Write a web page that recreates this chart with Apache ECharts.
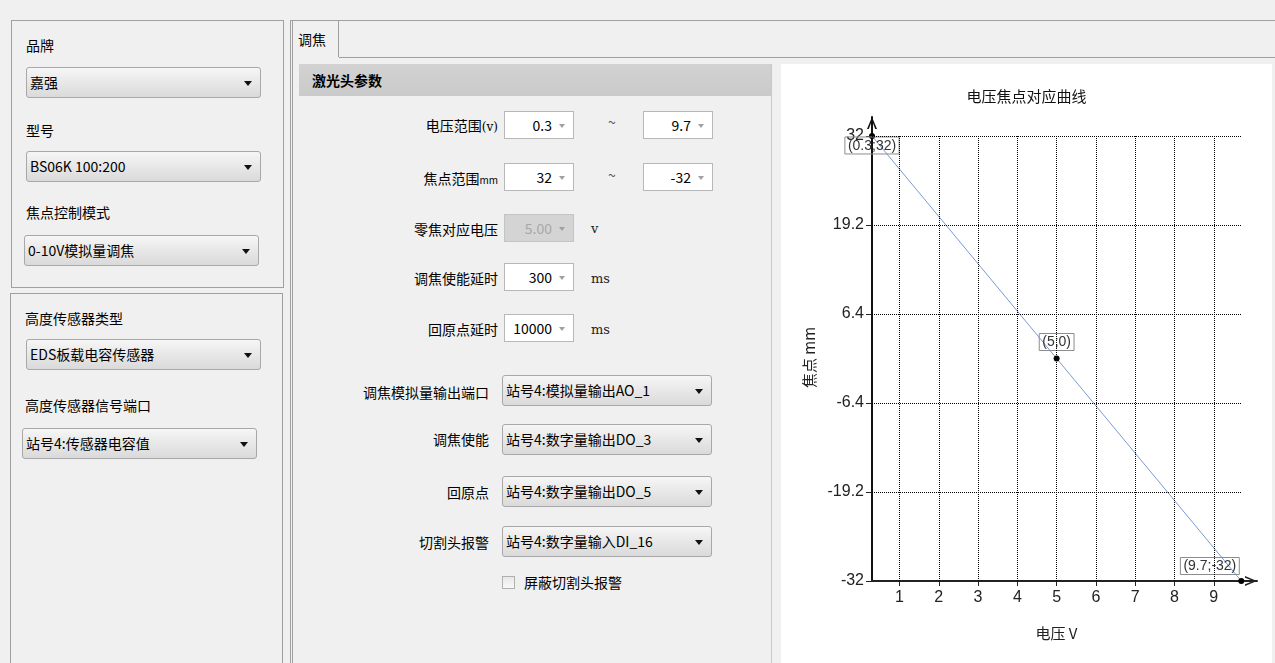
<!DOCTYPE html>
<html><head><meta charset="utf-8">
<script src="https://cdn.jsdelivr.net/npm/echarts@6/dist/echarts.min.js"></script>
<style>
html,body{margin:0;padding:0;}
body{width:1275px;height:663px;background:#f0f0f0;position:relative;overflow:hidden;font-family:"Noto Sans CJK SC","Noto Sans",sans-serif;font-size:14px;color:#000;}
.box{position:absolute;border:1px solid #a0a0a0;box-sizing:border-box;}
.lbl{position:absolute;line-height:18px;white-space:nowrap;}
.r{text-align:right;}
.combo{position:absolute;height:31px;border:1px solid #a8a8a8;border-radius:3px;box-sizing:border-box;background:linear-gradient(#f6f6f6,#e9e9e9 45%,#dadada);line-height:29px;padding-left:3px;white-space:nowrap;}
.combo::after{content:'';position:absolute;right:8px;top:13px;border-left:4px solid transparent;border-right:4px solid transparent;border-top:5px solid #111;}
.spin{position:absolute;width:70px;height:28px;background:#fff;border:1px solid #b8b8b8;box-sizing:border-box;line-height:26px;text-align:right;padding-right:21px;white-space:nowrap;}
.spin::after{content:'';position:absolute;right:8px;top:12px;border-left:3px solid transparent;border-right:3px solid transparent;border-top:4px solid #a0a0a0;}
.spin.dis{background:#d4d4d4;color:#a8a8a8;border-color:#c4c4c4;}
.unit{position:absolute;font-family:"DejaVu Serif","Liberation Serif",serif;font-size:13px;line-height:16px;color:#222;}
</style></head>
<body>
<!-- left panels -->
<div class="box" style="left:11px;top:20px;width:273px;height:268px;"></div>
<div class="lbl" style="left:26px;top:36px;">品牌</div>
<div class="combo" style="left:26px;top:67px;width:235px;">嘉强</div>
<div class="lbl" style="left:26px;top:121px;">型号</div>
<div class="combo" style="left:26px;top:151px;width:235px;">BS06K 100:200</div>
<div class="lbl" style="left:26px;top:203px;">焦点控制模式</div>
<div class="combo" style="left:24px;top:235px;width:235px;">0-10V模拟量调焦</div>

<div class="box" style="left:10px;top:293px;width:273px;height:380px;"></div>
<div class="lbl" style="left:25px;top:309px;">高度传感器类型</div>
<div class="combo" style="left:26px;top:339px;width:235px;">EDS板载电容传感器</div>
<div class="lbl" style="left:25px;top:396px;">高度传感器信号端口</div>
<div class="combo" style="left:22px;top:428px;width:235px;">站号4:传感器电容值</div>

<!-- tab widget -->
<div style="position:absolute;left:290px;top:20px;width:985px;height:643px;border-top:1px solid #a0a0a0;border-left:3px double #a0a0a0;box-sizing:border-box;"></div>
<div style="position:absolute;left:293px;top:21px;width:46px;height:36px;border-right:1px solid #a0a0a0;box-sizing:border-box;"></div>
<div class="lbl" style="left:298px;top:30px;">调焦</div>
<div style="position:absolute;left:339px;top:57px;width:936px;height:1px;background:#a0a0a0;"></div>

<!-- group -->
<div style="position:absolute;left:299px;top:64px;width:473px;height:600px;border-right:1px solid #c8c8c8;box-sizing:border-box;"></div>
<div style="position:absolute;left:299px;top:64px;width:472px;height:32px;background:linear-gradient(#d2d2d2,#cacaca);"></div>
<div class="lbl" style="left:312px;top:71px;font-weight:bold;">激光头参数</div>

<div class="lbl r" style="left:300px;width:198px;top:116px;">电压范围<span style="font-family:'DejaVu Serif',serif;font-size:12px;">(v)</span></div>
<div class="spin" style="left:504px;top:111px;">0.3</div>
<div class="lbl" style="left:608px;top:113px;color:#555;">~</div>
<div class="spin" style="left:643px;top:111px;">9.7</div>

<div class="lbl r" style="left:300px;width:198px;top:169px;">焦点范围<span style="font-size:10px;">mm</span></div>
<div class="spin" style="left:504px;top:163px;">32</div>
<div class="lbl" style="left:608px;top:166px;color:#555;">~</div>
<div class="spin" style="left:643px;top:163px;">-32</div>

<div class="lbl r" style="left:300px;width:198px;top:220px;">零焦对应电压</div>
<div class="spin dis" style="left:504px;top:214px;">5.00</div>
<div class="unit" style="left:591px;top:221px;">v</div>

<div class="lbl r" style="left:300px;width:198px;top:269px;">调焦使能延时</div>
<div class="spin" style="left:504px;top:263px;">300</div>
<div class="unit" style="left:591px;top:271px;">ms</div>

<div class="lbl r" style="left:300px;width:198px;top:320px;">回原点延时</div>
<div class="spin" style="left:504px;top:314px;">10000</div>
<div class="unit" style="left:591px;top:322px;">ms</div>

<div class="lbl r" style="left:300px;width:189px;top:383px;">调焦模拟量输出端口</div>
<div class="combo" style="left:502px;top:375px;width:210px;">站号4:模拟量输出AO_1</div>
<div class="lbl r" style="left:300px;width:189px;top:430px;">调焦使能</div>
<div class="combo" style="left:502px;top:424px;width:210px;">站号4:数字量输出DO_3</div>
<div class="lbl r" style="left:300px;width:189px;top:483px;">回原点</div>
<div class="combo" style="left:502px;top:476px;width:210px;">站号4:数字量输出DO_5</div>
<div class="lbl r" style="left:300px;width:189px;top:533px;">切割头报警</div>
<div class="combo" style="left:502px;top:526px;width:210px;">站号4:数字量输入DI_16</div>
<div style="position:absolute;left:502px;top:576px;width:13px;height:13px;border:1px solid #b0b0b0;box-sizing:border-box;background:linear-gradient(#e8e8e8,#f8f8f8);"></div>
<div class="lbl" style="left:524px;top:573px;">屏蔽切割头报警</div>

<!-- chart -->
<div id="chart" style="position:absolute;left:781px;top:64px;width:491px;height:599px;background:#fff;"></div>

<script>
// ---- data ----
const voltage = [0.3, 5, 9.7];
const focus = [32, 0, -32];
const xTicks = [1, 2, 3, 4, 5, 6, 7, 8, 9];
const yTicks = [-32, -19.2, -6.4, 6.4, 19.2, 32];
const xRange = [0.3, 9.7];
const yRange = [-32, 32];
const xAxisEnd = 10.1;
const yAxisEnd = 34.73;

const chevron = 'path://M5,0L10,12L8.2,12L5,3.6L1.8,12L0,12Z';
const numFont = '"Liberation Sans","Arial",sans-serif';
const cjkFont = '"Noto Sans CJK SC","Liberation Sans",sans-serif';

const labelCfg = [
  { position: 'bottom', distance: -2 },
  { position: 'top', distance: 5 },
  { position: 'left', distance: -1, offset: [0, -15] }
];

const gridLines = xTicks.map(x => [{ coord: [x, yRange[0]] }, { coord: [x, yRange[1]] }])
  .concat(yTicks.filter(y => y > yRange[0]).map(y => [{ coord: [xRange[0], y] }, { coord: [xRange[1], y] }]));

const chart = echarts.init(document.getElementById('chart'));
chart.setOption({
  animation: false,
  backgroundColor: '#fff',
  title: {
    text: '电压焦点对应曲线', left: 'center', top: 20,
    textStyle: { fontFamily: cjkFont, fontSize: 15, fontWeight: 'normal', color: '#111' }
  },
  grid: { left: 91, top: 53, width: 385, height: 464, containLabel: false },
  xAxis: {
    type: 'value', min: xRange[0], max: xAxisEnd,
    name: '电压 V', nameLocation: 'middle', nameGap: 45,
    nameTextStyle: { fontFamily: cjkFont, fontSize: 15, color: '#222', padding: [0, 16, 0, 0] },
    axisLine: { onZero: false, lineStyle: { color: '#222', width: 2 }, symbol: ['none', chevron], symbolSize: [10, 13], symbolOffset: [0, -6] },
    axisTick: { customValues: xTicks, length: 5, lineStyle: { color: '#222' } },
    axisLabel: { customValues: xTicks, fontFamily: numFont, fontSize: 16, color: '#222', margin: 9 },
    splitLine: { show: false }
  },
  yAxis: {
    type: 'value', min: yRange[0], max: yAxisEnd,
    name: '焦点 mm', nameLocation: 'middle', nameGap: 55, nameRotate: 90,
    nameTextStyle: { fontFamily: cjkFont, fontSize: 15, color: '#222', padding: [0, 17, 0, 0] },
    axisLine: { onZero: false, lineStyle: { color: '#111', width: 2 }, symbol: ['none', chevron], symbolSize: [10, 12], symbolOffset: [0, -6] },
    axisTick: { customValues: yTicks, length: 6, lineStyle: { color: '#222' } },
    axisLabel: { customValues: yTicks, fontFamily: numFont, fontSize: 16, color: '#222', margin: 8 },
    splitLine: { show: false }
  },
  series: [
    {
      type: 'line', data: [], silent: true, z: 1,
      markLine: {
        silent: true, symbol: ['none', 'none'], label: { show: false },
        lineStyle: { color: '#000', width: 1, type: [1, 1] },
        emphasis: { disabled: true },
        data: gridLines
      }
    },
    {
      type: 'line', z: 3,
      data: voltage.map((v, i) => ({ value: [v, focus[i]], label: labelCfg[i] })),
      symbol: 'circle', symbolSize: 6, showAllSymbol: true,
      itemStyle: { color: '#000' },
      lineStyle: { color: '#7a9ad6', width: 1 },
      label: {
        show: true, fontFamily: numFont, fontSize: 14, color: '#333',
        borderColor: '#8c8c8c', borderWidth: 1, padding: [2, 3, 1, 3],
        formatter: p => '(' + p.value[0] + ';' + p.value[1] + ')'
      },
      emphasis: { disabled: true }
    }
  ]
});
</script>
</body></html>
